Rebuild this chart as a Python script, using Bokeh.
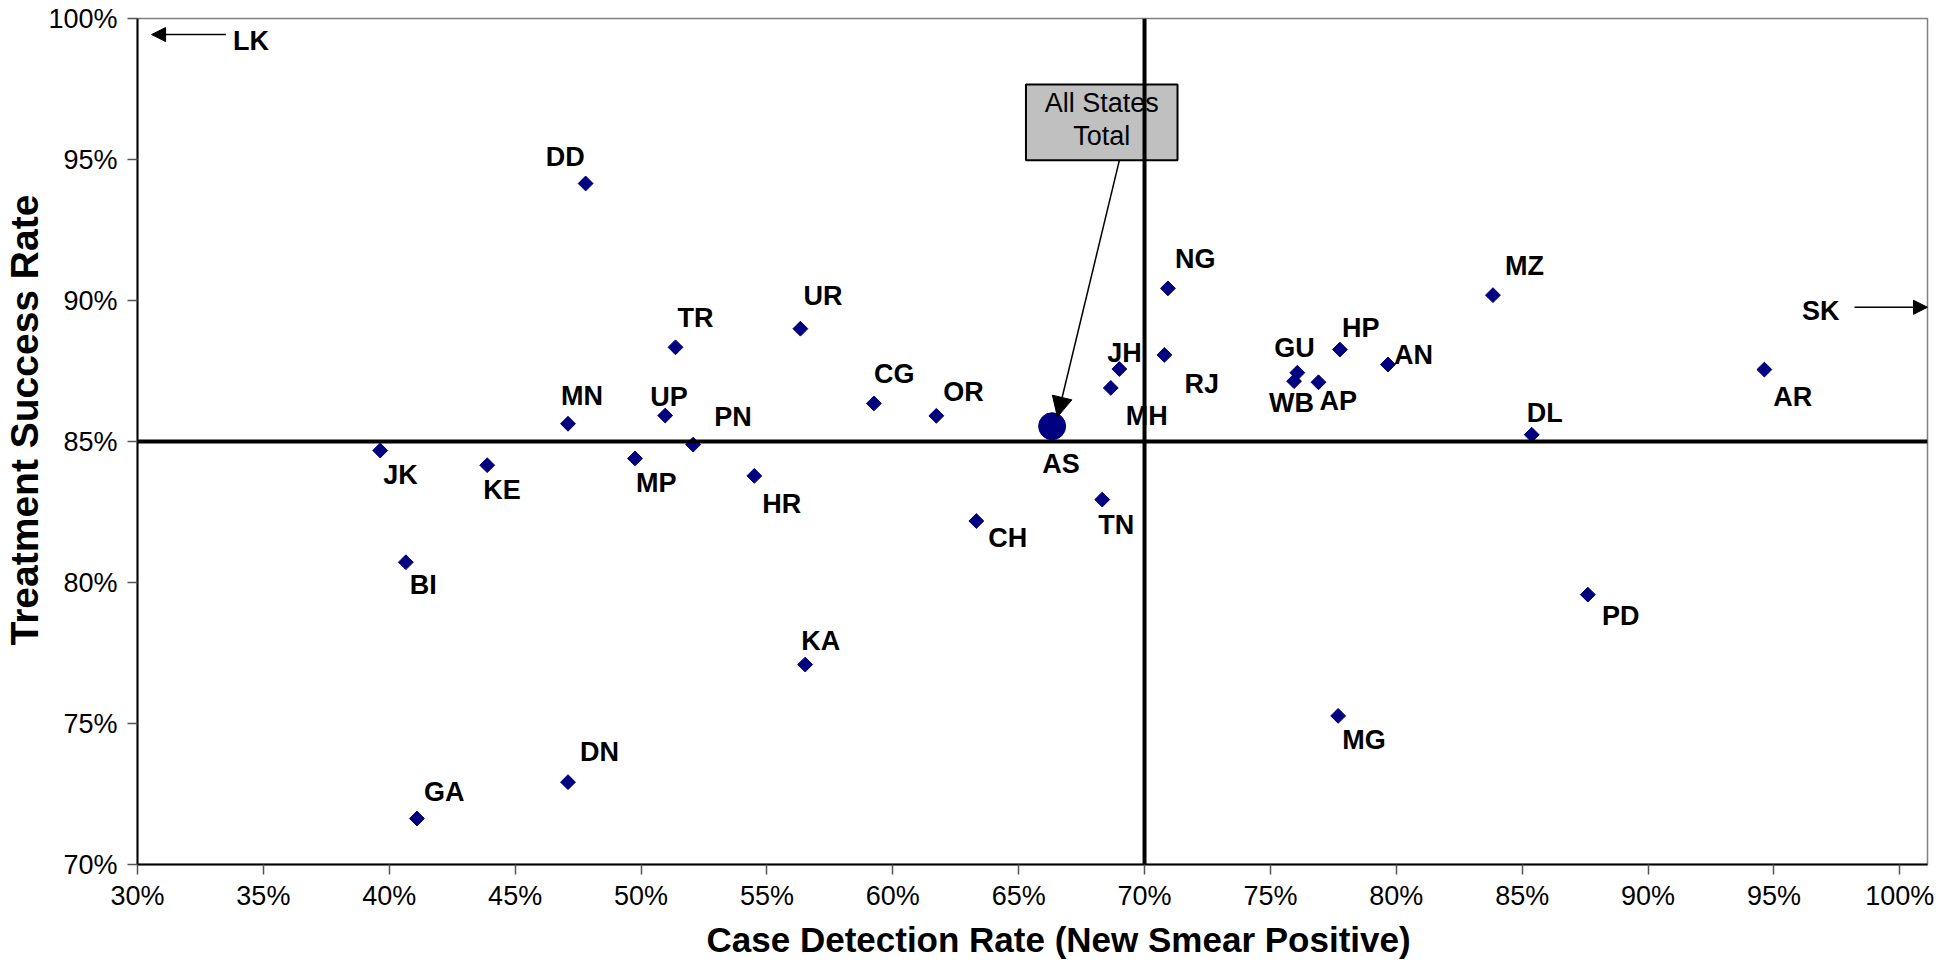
import math
from bokeh.plotting import figure
from bokeh.models import Span, Arrow, NormalHead, FixedTicker, CustomJSTickFormatter, ColumnDataSource, Label, Title
from bokeh.core.properties import value
from bokeh.embed import file_html
from bokeh.resources import INLINE

# ---- data ----
states = ["JK", "BI", "GA", "KE", "DD", "MN", "DN", "MP", "UP", "PN", "TR", "HR",
          "UR", "KA", "CG", "OR", "CH", "TN", "MH", "JH", "NG", "RJ", "GU", "WB",
          "AP", "HP", "MG", "AN", "MZ", "DL", "PD", "AR"]
case_detection = [39.64, 40.66, 41.10, 43.89, 47.80, 47.10, 47.10, 49.76, 50.96, 52.07, 51.37, 54.50,
                  56.33, 56.52, 59.25, 61.73, 63.32, 68.32, 68.66, 69.00, 70.93, 70.79, 76.07, 75.94,
                  76.91, 77.76, 77.69, 79.67, 83.84, 85.38, 87.61, 94.62]
treatment_success = [84.68, 80.72, 71.63, 84.16, 94.15, 85.63, 72.92, 84.40, 85.92, 84.89, 88.34, 83.78,
                     89.00, 77.09, 86.35, 85.91, 82.18, 82.94, 86.90, 87.57, 90.43, 88.07, 87.44, 87.14,
                     87.10, 88.26, 75.27, 87.73, 90.19, 85.24, 79.57, 87.55]
total_name = ["AS"]
total_cdr = [66.33]
total_tsr = [85.54]
offscale_left = {"name": "LK", "tsr": 99.43}
offscale_right = {"name": "SK", "tsr": 89.76}
target_cdr = 70
target_tsr = 85
x_ticks = [30, 35, 40, 45, 50, 55, 60, 65, 70, 75, 80, 85, 90, 95, 100]
y_ticks = [70, 75, 80, 85, 90, 95, 100]
x_title = "Case Detection Rate (New Smear Positive)"
y_title = "Treatment Success Rate"

# ---- label placement (screen px offsets) ----
label_dx = [3, 4, 7, -4, -40, -7, 12, 1, -15, 21, 2, 8,
            3, -4, 0, 7, 12, -4, 15, -12, 7, 20, -23, -25,
            1, 2, 4, 6, 12, -5, 14, 9]
label_dy = [24, 23, -27, 25, -26, -28, -30, 25, -19, -28, -29, 28,
            -33, -24, -29, -24, 17, 25, 28, -16, -29, 29, -25, 22,
            19, -22, 24, -10, -29, -22, 21, 27]

FONT = "Liberation Sans"
NAVY = "#000080"

p = figure(width=1940, height=968, output_backend="svg", toolbar_location=None,
           x_range=(30, 101.1), y_range=(70, 100),
           min_border_left=136, min_border_right=13, min_border_top=18, min_border_bottom=104)
p.background_fill_color = "white"
p.border_fill_color = "white"
p.outline_line_color = "#808080"
p.outline_line_width = 1.5
p.xgrid.visible = False
p.ygrid.visible = False

fmt = CustomJSTickFormatter(code="return tick.toFixed(0) + '%';")
for ax, ticks in ((p.xaxis, x_ticks), (p.yaxis, y_ticks)):
    ax.ticker = FixedTicker(ticks=ticks)
    ax.formatter = fmt
    ax.minor_tick_line_color = None
    ax.major_tick_in = 0
    ax.major_tick_out = 10
    ax.major_tick_line_color = "#555555"
    ax.major_tick_line_width = 1.5
    ax.axis_line_color = "black"
    ax.axis_line_width = 2
    ax.major_label_text_font = FONT
    ax.major_label_text_font_size = "27px"
    ax.major_label_text_color = "black"
p.xaxis.major_label_standoff = 6
p.yaxis.major_label_standoff = 10

# axis titles as side titles, offset like the original
p.add_layout(Title(text=x_title, align="left", offset=569, standoff=8,
                   text_font=FONT, text_font_style="bold", text_font_size="35px",
                   text_color="black"), "below")
p.add_layout(Title(text=y_title, align="left", offset=219, standoff=0,
                   text_font=FONT, text_font_style="bold", text_font_size="39px",
                   text_color="black"), "left")

# target lines
p.add_layout(Span(location=target_cdr, dimension="height", line_color="black", line_width=4))
p.add_layout(Span(location=target_tsr, dimension="width", line_color="black", line_width=4))

src = ColumnDataSource(dict(x=case_detection, y=treatment_success, name=states,
                            dx=label_dx, dy=label_dy))
p.scatter("x", "y", source=src, marker="square", size=10.5, angle=math.pi / 4,
          fill_color=NAVY, line_color=NAVY)
p.text("x", "y", text="name", source=src, x_offset="dx", y_offset="dy",
       text_font=value(FONT), text_font_style="bold", text_font_size="27px",
       text_align="left", text_baseline="middle", text_color="black")

# all-states total
p.scatter(total_cdr, total_tsr, marker="circle", size=27, fill_color=NAVY, line_color=NAVY)
p.text(total_cdr, total_tsr, text=total_name, x_offset=-10, y_offset=38,
       text_font=value(FONT), text_font_style="bold", text_font_size="27px",
       text_align="left", text_baseline="middle", text_color="black")

# callout box
box_l, box_r, box_b, box_t = 65.29, 71.31, 94.97, 97.66
p.quad(left=[box_l], right=[box_r], bottom=[box_b], top=[box_t],
       fill_color="#C0C0C0", line_color="black", line_width=2)
bx = (box_l + box_r) / 2
p.text([bx, bx], [97.01, 95.83], text=["All States", "Total"],
       text_font=value(FONT), text_font_size="27px", text_align="center",
       text_baseline="middle", text_color="black")
p.add_layout(Arrow(end=NormalHead(size=20, fill_color="black", line_color="black"),
                   x_start=69.0, y_start=box_b, x_end=total_cdr[0] + 0.21, y_end=total_tsr[0] + 0.33,
                   line_color="black", line_width=1.5))

# off-scale states
p.add_layout(Arrow(end=NormalHead(size=14, fill_color="black", line_color="black"),
                   x_start=33.51, y_start=offscale_left["tsr"], x_end=30.56, y_end=offscale_left["tsr"],
                   line_color="black", line_width=1.5))
p.add_layout(Label(x=33.79, y=offscale_left["tsr"], text=offscale_left["name"], y_offset=-6,
                   text_font=FONT, text_font_style="bold", text_font_size="27px",
                   text_align="left", text_baseline="middle", text_color="black"))
p.add_layout(Arrow(end=NormalHead(size=14, fill_color="black", line_color="black"),
                   x_start=98.2, y_start=offscale_right["tsr"], x_end=101.1, y_end=offscale_right["tsr"],
                   line_color="black", line_width=1.5))
p.add_layout(Label(x=97.6, y=offscale_right["tsr"], text=offscale_right["name"], y_offset=-4,
                   text_font=FONT, text_font_style="bold", text_font_size="27px",
                   text_align="right", text_baseline="middle", text_color="black"))

open("out.html", "w").write(file_html(p, INLINE))
